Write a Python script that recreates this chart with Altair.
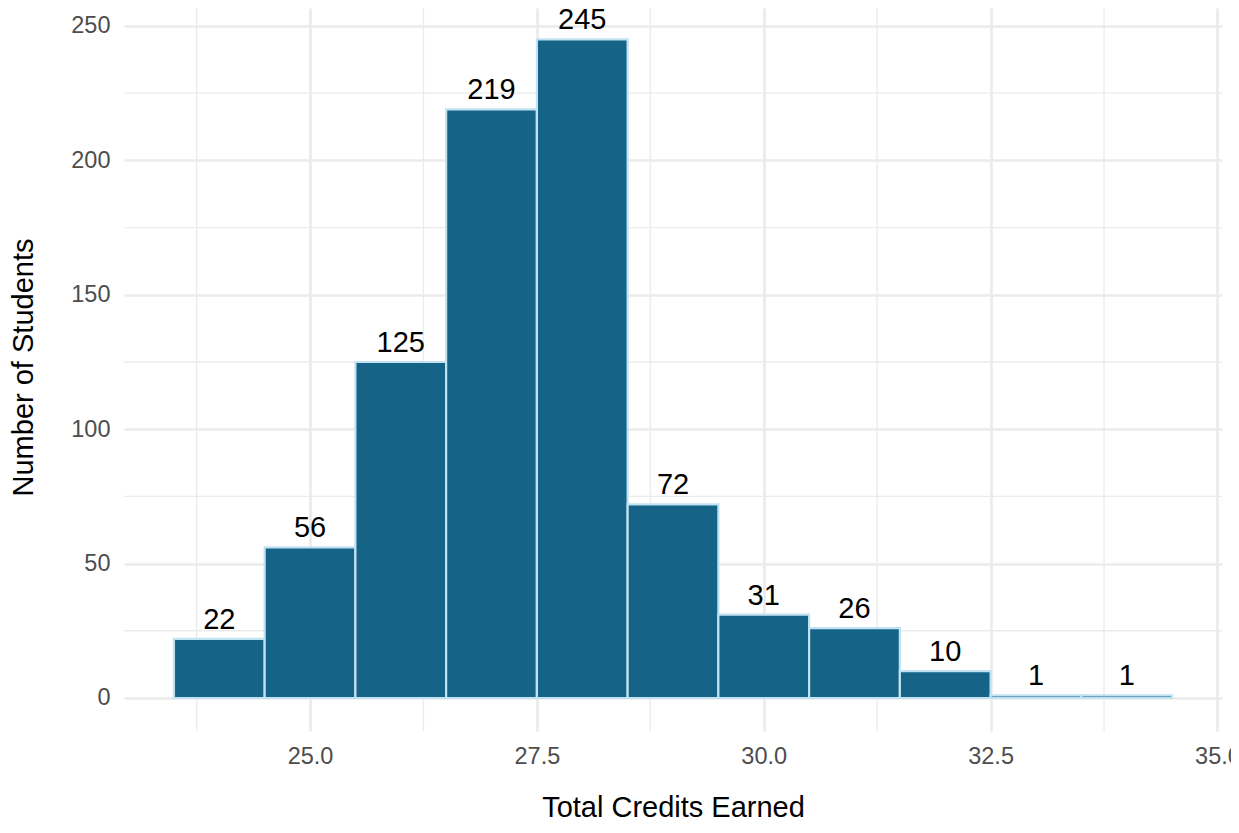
import altair as alt
import pandas as pd

# Histogram data (bin centers and counts)
credits = [24, 25, 26, 27, 28, 29, 30, 31, 32, 33, 34]
counts = [22, 56, 125, 219, 245, 72, 31, 26, 10, 1, 1]

x_ticks = [25.0, 27.5, 30.0, 32.5, 35.0]
y_ticks = [0, 50, 100, 150, 200, 250]
x_minor = [23.75, 26.25, 28.75, 31.25, 33.75]
y_minor = [25, 75, 125, 175, 225]

FONT = "Liberation Sans"
GRID = "#EBEBEB"

df = pd.DataFrame({"credits": credits, "count": counts})
df_xminor = pd.DataFrame({"v": x_minor})
df_yminor = pd.DataFrame({"v": y_minor})

xscale = alt.Scale(domain=[22.95, 35.05], nice=False, zero=False)
yscale = alt.Scale(domain=[-12.277, 256.696], nice=False, zero=False)

xaxis = alt.Axis(
    values=x_ticks, format=".1f", title="Total Credits Earned",
    labelPadding=13, titleY=85, titleBaseline="alphabetic",
)
yaxis = alt.Axis(
    values=y_ticks, format="d", title="Number of Students",
    labelPadding=14, titleX=-92, titleY=359, titleBaseline="alphabetic",
)

minor_x = alt.Chart(df_xminor).mark_rule(color=GRID, strokeWidth=1.35).encode(
    x=alt.X("v:Q", scale=xscale, axis=xaxis)
)
minor_y = alt.Chart(df_yminor).mark_rule(color=GRID, strokeWidth=1.35).encode(
    y=alt.Y("v:Q", scale=yscale, axis=yaxis)
)

base = alt.Chart(df).transform_calculate(
    x0="datum.credits - 0.5", x1="datum.credits + 0.5", zero="0"
)

bars = base.mark_rect(fill="#156387", stroke="#c0e2f2", strokeWidth=2.2).encode(
    x=alt.X("x0:Q", scale=xscale, axis=xaxis),
    x2="x1:Q",
    y=alt.Y("count:Q", scale=yscale, axis=yaxis),
    y2="zero:Q",
)

labels = base.mark_text(
    font=FONT, fontSize=29, color="black", baseline="alphabetic", dy=-10
).encode(
    x=alt.X("credits:Q", scale=xscale, axis=xaxis),
    y=alt.Y("count:Q", scale=yscale, axis=yaxis),
    text=alt.Text("count:Q"),
)

chart = alt.layer(minor_x, minor_y, bars, labels).properties(
    width=1098,
    height=723,
    autosize=alt.AutoSizeParams(type="none"),
    padding={"left": 116, "top": 0, "right": 9, "bottom": 90},
).configure_view(
    stroke=None
).configure_axis(
    domain=False,
    ticks=False,
    tickSize=0,
    grid=True,
    gridColor=GRID,
    gridWidth=2.7,
    labelFont=FONT,
    labelFontSize=23.5,
    labelColor="#4D4D4D",
    titleFont=FONT,
    titleFontSize=29,
    titleFontWeight="normal",
    titleColor="black",
)

chart.save("out.html", embed_options={"renderer": "svg", "actions": False})
